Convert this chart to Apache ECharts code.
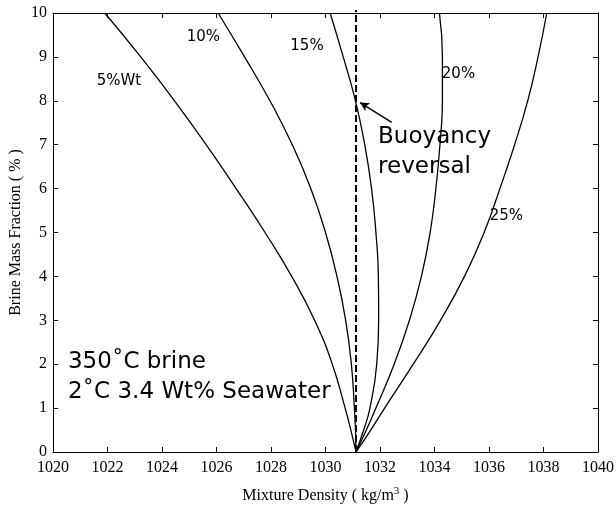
<!DOCTYPE html>
<html>
<head>
<meta charset="utf-8">
<script src="https://cdn.jsdelivr.net/npm/echarts@6/dist/echarts.min.js"></script>
<style>
  html, body { margin: 0; padding: 0; background: #fff; }
  #chart { width: 616px; height: 508px; }
</style>
</head>
<body>
<div id="chart"></div>
<script>
// Brine mass fraction (%) sampled along each mixing curve
const brineFraction = [0, 0.5, 1, 2, 3, 4, 5, 6, 7, 8, 9, 10];

// Mixture density (kg/m3) for each brine salinity, at the fractions above
const density5  = [1031.12, 1030.93, 1030.72, 1030.25, 1029.6, 1028.76, 1027.78, 1026.72, 1025.62, 1024.46, 1023.22, 1021.9];
const density10 = [1031.12, 1031.1, 1031.06, 1030.95, 1030.74, 1030.42, 1030.0, 1029.46, 1028.78, 1027.96, 1027.03, 1026.06];
const density15 = [1031.12, 1031.4, 1031.63, 1031.88, 1031.95, 1031.94, 1031.85, 1031.69, 1031.44, 1031.1, 1030.65, 1030.17];
const density20 = [1031.12, 1031.5, 1031.85, 1032.52, 1033.08, 1033.52, 1033.84, 1034.05, 1034.2, 1034.29, 1034.29, 1034.18];
const density25 = [1031.12, 1031.66, 1032.17, 1033.22, 1034.22, 1035.1, 1035.82, 1036.4, 1036.94, 1037.42, 1037.8, 1038.12];

// Seawater density (dashed reference) and where the 15% curve crosses it
const seawaterDensity = 1031.12;
const reversalFraction = 8;

// Curve labels, centred: [density, fraction, text]
const curveLabels = [
  [1022.42, 8.45, '5%Wt'],
  [1025.52, 9.44, '10%'],
  [1029.32, 9.24, '15%'],
  [1034.88, 8.61, '20%'],
  [1036.64, 5.38, '25%']
];

// Left-aligned annotation text: [density, fraction, text]
const noteLabels = [
  [1031.93, 7.18, 'Buoyancy'],
  [1031.93, 6.49, 'reversal'],
  [1020.55, 2.05, '350˚C brine'],
  [1020.55, 1.37, '2˚C 3.4 Wt% Seawater']
];

const xTicks = { min: 1020, max: 1040, interval: 2 };
const yTicks = { min: 0, max: 10, interval: 1 };

const pair = (xs) => xs.map((x, i) => [x, brineFraction[i]]);

const sans = 'DejaVu Sans';
const serif = 'Liberation Serif';

const axisBase = {
  axisLine: { show: true, onZero: false, lineStyle: { color: '#000', width: 1 } },
  axisTick: { show: true, inside: true, length: 5, lineStyle: { color: '#000', width: 1 } },
  splitLine: { show: false }
};

function curve(name, xs) {
  return {
    name, type: 'line', data: pair(xs), smooth: 0.5, symbol: 'none',
    lineStyle: { color: '#000', width: 1.3 }, z: 3
  };
}

const plain = (v) => String(v);

const chart = echarts.init(document.getElementById('chart'), null, { renderer: 'canvas' });
chart.setOption({
  animation: false,
  backgroundColor: '#fff',
  grid: { left: 53, right: 18, top: 13, bottom: 56, containLabel: false, outerBoundsMode: 'none' },
  xAxis: [
    Object.assign({}, axisBase, {
      type: 'value', position: 'bottom', ...xTicks,
      axisLabel: { color: '#000', fontFamily: serif, fontSize: 16, margin: 8, formatter: plain },
      name: 'Mixture Density ( kg/m{sup|3} )',
      nameLocation: 'middle', nameGap: 34, nameMoveOverlap: false,
      nameTextStyle: {
        color: '#000', fontFamily: serif, fontSize: 16,
        rich: { sup: { fontFamily: serif, fontSize: 11, color: '#000', padding: [0, 0, 9, 0] } }
      }
    }),
    Object.assign({}, axisBase, {
      type: 'value', position: 'top', ...xTicks,
      axisLabel: { show: false }
    })
  ],
  yAxis: [
    Object.assign({}, axisBase, {
      type: 'value', position: 'left', ...yTicks,
      axisLabel: { color: '#000', fontFamily: serif, fontSize: 16, margin: 6, formatter: plain },
      name: 'Brine Mass Fraction ( % )',
      nameLocation: 'middle', nameGap: 29, nameMoveOverlap: false,
      nameTextStyle: { color: '#000', fontFamily: serif, fontSize: 16 }
    }),
    Object.assign({}, axisBase, {
      type: 'value', position: 'right', ...yTicks,
      axisLabel: { show: false }
    })
  ],
  series: [
    curve('5%', density5),
    curve('10%', density10),
    curve('15%', density15),
    curve('20%', density20),
    curve('25%', density25),
    {
      name: 'seawater', type: 'line', symbol: 'none', clip: false, z: 4,
      data: [[seawaterDensity, 0], [seawaterDensity, 10.07]],
      lineStyle: { color: '#000', width: 2, type: [7, 3] },
      markLine: {
        silent: true, symbol: ['none', 'arrow'], symbolSize: [7, 9],
        label: { show: false },
        lineStyle: { color: '#000', width: 1.5, type: 'solid' },
        data: [[
          { coord: [seawaterDensity + 1.31, reversalFraction - 0.49] },
          { coord: [seawaterDensity + 0.15, reversalFraction - 0.04] }
        ]]
      }
    }
  ]
});

// Place the text annotations through the grid's coordinate system
function textAt(item, align, size) {
  const pt = chart.convertToPixel({ gridIndex: 0 }, [item[0], item[1]]);
  return {
    type: 'text', x: pt[0], y: pt[1], z: 10,
    style: {
      text: item[2], fill: '#000', font: size + 'px "' + sans + '"',
      align: align, verticalAlign: 'middle'
    }
  };
}
chart.setOption({
  graphic: curveLabels.map((d) => textAt(d, 'center', 15))
    .concat(noteLabels.map((d) => textAt(d, 'left', 23)))
});
</script>
</body>
</html>
